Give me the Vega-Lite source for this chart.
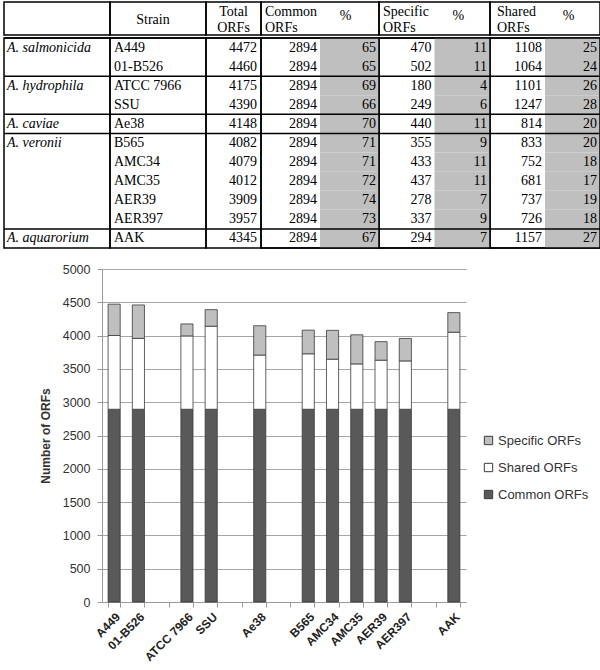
{
  "$schema": "https://vega.github.io/schema/vega-lite/v6.json",
  "padding": {"left": 2, "top": 1, "right": 0, "bottom": 0},
  "autosize": {"type": "pad"},
  "background": "white",
  "datasets": {
    "orfs": [
      {"species": "A. salmonicida", "strain": "A449", "total": 4472, "common": 2894, "commonPct": 65, "specific": 470, "specificPct": 11, "shared": 1108, "sharedPct": 25},
      {"species": "A. salmonicida", "strain": "01-B526", "total": 4460, "common": 2894, "commonPct": 65, "specific": 502, "specificPct": 11, "shared": 1064, "sharedPct": 24},
      {"species": "A. hydrophila", "strain": "ATCC 7966", "total": 4175, "common": 2894, "commonPct": 69, "specific": 180, "specificPct": 4, "shared": 1101, "sharedPct": 26},
      {"species": "A. hydrophila", "strain": "SSU", "total": 4390, "common": 2894, "commonPct": 66, "specific": 249, "specificPct": 6, "shared": 1247, "sharedPct": 28},
      {"species": "A. caviae", "strain": "Ae38", "total": 4148, "common": 2894, "commonPct": 70, "specific": 440, "specificPct": 11, "shared": 814, "sharedPct": 20},
      {"species": "A. veronii", "strain": "B565", "total": 4082, "common": 2894, "commonPct": 71, "specific": 355, "specificPct": 9, "shared": 833, "sharedPct": 20},
      {"species": "A. veronii", "strain": "AMC34", "total": 4079, "common": 2894, "commonPct": 71, "specific": 433, "specificPct": 11, "shared": 752, "sharedPct": 18},
      {"species": "A. veronii", "strain": "AMC35", "total": 4012, "common": 2894, "commonPct": 72, "specific": 437, "specificPct": 11, "shared": 681, "sharedPct": 17},
      {"species": "A. veronii", "strain": "AER39", "total": 3909, "common": 2894, "commonPct": 74, "specific": 278, "specificPct": 7, "shared": 737, "sharedPct": 19},
      {"species": "A. veronii", "strain": "AER397", "total": 3957, "common": 2894, "commonPct": 73, "specific": 337, "specificPct": 9, "shared": 726, "sharedPct": 18},
      {"species": "A. aquarorium", "strain": "AAK", "total": 4345, "common": 2894, "commonPct": 67, "specific": 294, "specificPct": 7, "shared": 1157, "sharedPct": 27}
    ]
  },
  "vconcat": [
    {
      "vconcat": [
        {
          "hconcat": [
            {
              "width": 106, "height": 33,
              "view": {"stroke": "#000", "strokeWidth": 1.5},
              "data": {"values": [{}]},
              "mark": {"type": "text"},
              "encoding": {"text": {"value": ""}}
            },
            {
              "width": 96, "height": 33,
              "view": {"stroke": "#000", "strokeWidth": 1.5},
              "data": {"values": [{"r": "h2", "t": "Strain"}]},
              "mark": {"type": "text", "font": "Liberation Serif", "fontSize": 14, "color": "#000", "align": "center", "baseline": "middle", "dx": -5, "dy": 1},
              "encoding": {
                "x": {"datum": "c", "type": "nominal", "bandPosition": 0.5, "scale": {"type": "band", "domain": ["c"], "paddingInner": 0, "paddingOuter": 0}, "axis": null},
                "y": {"field": "r", "type": "nominal", "bandPosition": 0, "scale": {"type": "band", "domain": ["h1", "h2"], "paddingInner": 0, "paddingOuter": 0}, "axis": null},
                "text": {"field": "t"}
              }
            },
            {
              "width": 55, "height": 33,
              "view": {"stroke": "#000", "strokeWidth": 1.5},
              "data": {"values": [{"r": "h1", "t": "Total"}, {"r": "h2", "t": "ORFs"}]},
              "mark": {"type": "text", "font": "Liberation Serif", "fontSize": 14, "color": "#000", "align": "center", "baseline": "middle", "dy": 1.5},
              "encoding": {
                "x": {"datum": "c", "type": "nominal", "bandPosition": 0.5, "scale": {"type": "band", "domain": ["c"], "paddingInner": 0, "paddingOuter": 0}, "axis": null},
                "y": {"field": "r", "type": "nominal", "scale": {"type": "band", "domain": ["h1", "h2"], "paddingInner": 0, "paddingOuter": 0}, "axis": null},
                "text": {"field": "t"}
              }
            },
            {
              "width": 118, "height": 33,
              "view": {"stroke": "#000", "strokeWidth": 1.5},
              "layer": [
                {
                  "data": {"values": [{"r": "h1", "t": "Common"}, {"r": "h2", "t": "ORFs"}]},
                  "mark": {"type": "text", "font": "Liberation Serif", "fontSize": 14, "color": "#000", "align": "left", "baseline": "middle", "dx": 4, "dy": 1.5},
                  "encoding": {
                    "x": {"datum": "v", "type": "nominal", "bandPosition": 0, "scale": {"type": "band", "domain": ["v", "p"], "paddingInner": 0, "paddingOuter": 0}, "axis": null},
                    "y": {"field": "r", "type": "nominal", "scale": {"type": "band", "domain": ["h1", "h2"], "paddingInner": 0, "paddingOuter": 0}, "axis": null},
                    "text": {"field": "t"}
                  }
                },
                {
                  "data": {"values": [{"r": "h2", "t": "%"}]},
                  "mark": {"type": "text", "font": "Liberation Serif", "fontSize": 14, "color": "#000", "align": "center", "baseline": "middle", "dx": -4, "dy": -3},
                  "encoding": {
                    "x": {"datum": "p", "type": "nominal", "bandPosition": 0.5, "scale": {"type": "band", "domain": ["v", "p"], "paddingInner": 0, "paddingOuter": 0}, "axis": null},
                    "y": {"field": "r", "type": "nominal", "bandPosition": 0, "scale": {"type": "band", "domain": ["h1", "h2"], "paddingInner": 0, "paddingOuter": 0}, "axis": null},
                    "text": {"field": "t"}
                  }
                }
              ]
            },
            {
              "width": 111, "height": 33,
              "view": {"stroke": "#000", "strokeWidth": 1.5},
              "layer": [
                {
                  "data": {"values": [{"r": "h1", "t": "Specific"}, {"r": "h2", "t": "ORFs"}]},
                  "mark": {"type": "text", "font": "Liberation Serif", "fontSize": 14, "color": "#000", "align": "left", "baseline": "middle", "dx": 4, "dy": 1.5},
                  "encoding": {
                    "x": {"datum": "v", "type": "nominal", "bandPosition": 0, "scale": {"type": "band", "domain": ["v", "p"], "paddingInner": 0, "paddingOuter": 0}, "axis": null},
                    "y": {"field": "r", "type": "nominal", "scale": {"type": "band", "domain": ["h1", "h2"], "paddingInner": 0, "paddingOuter": 0}, "axis": null},
                    "text": {"field": "t"}
                  }
                },
                {
                  "data": {"values": [{"r": "h2", "t": "%"}]},
                  "mark": {"type": "text", "font": "Liberation Serif", "fontSize": 14, "color": "#000", "align": "center", "baseline": "middle", "dx": -4, "dy": -3},
                  "encoding": {
                    "x": {"datum": "p", "type": "nominal", "bandPosition": 0.5, "scale": {"type": "band", "domain": ["v", "p"], "paddingInner": 0, "paddingOuter": 0}, "axis": null},
                    "y": {"field": "r", "type": "nominal", "bandPosition": 0, "scale": {"type": "band", "domain": ["h1", "h2"], "paddingInner": 0, "paddingOuter": 0}, "axis": null},
                    "text": {"field": "t"}
                  }
                }
              ]
            },
            {
              "width": 110, "height": 33,
              "view": {"stroke": "#000", "strokeWidth": 1.5},
              "layer": [
                {
                  "data": {"values": [{"r": "h1", "t": "Shared"}, {"r": "h2", "t": "ORFs"}]},
                  "mark": {"type": "text", "font": "Liberation Serif", "fontSize": 14, "color": "#000", "align": "left", "baseline": "middle", "dx": 7, "dy": 1.5},
                  "encoding": {
                    "x": {"datum": "v", "type": "nominal", "bandPosition": 0, "scale": {"type": "band", "domain": ["v", "p"], "paddingInner": 0, "paddingOuter": 0}, "axis": null},
                    "y": {"field": "r", "type": "nominal", "scale": {"type": "band", "domain": ["h1", "h2"], "paddingInner": 0, "paddingOuter": 0}, "axis": null},
                    "text": {"field": "t"}
                  }
                },
                {
                  "data": {"values": [{"r": "h2", "t": "%"}]},
                  "mark": {"type": "text", "font": "Liberation Serif", "fontSize": 14, "color": "#000", "align": "center", "baseline": "middle", "dx": -4, "dy": -3},
                  "encoding": {
                    "x": {"datum": "p", "type": "nominal", "bandPosition": 0.5, "scale": {"type": "band", "domain": ["v", "p"], "paddingInner": 0, "paddingOuter": 0}, "axis": null},
                    "y": {"field": "r", "type": "nominal", "bandPosition": 0, "scale": {"type": "band", "domain": ["h1", "h2"], "paddingInner": 0, "paddingOuter": 0}, "axis": null},
                    "text": {"field": "t"}
                  }
                }
              ]
            }
          ],
          "spacing": 0,
          "bounds": "flush",
          "resolve": {"scale": {"x": "independent", "y": "independent"}}
        },
        {
          "hconcat": [
            {
              "width": 106, "height": 210,
              "view": {"stroke": "#000", "strokeWidth": 1.5},
              "data": {"name": "orfs"},
              "transform": [{"window": [{"op": "row_number", "as": "rn"}], "groupby": ["species"]}, {"filter": "datum.rn == 1"}],
              "layer": [
                {
                  "mark": {"type": "rule", "color": "#000", "strokeWidth": 1.5},
                  "encoding": {"y": {"field": "strain", "type": "nominal", "bandPosition": 0, "scale": {"type": "band", "domain": ["A449","01-B526","ATCC 7966","SSU","Ae38","B565","AMC34","AMC35","AER39","AER397","AAK"], "paddingInner": 0, "paddingOuter": 0}, "axis": null}}
                },
                {
                  "mark": {"type": "text", "font": "Liberation Serif", "fontSize": 14, "fontStyle": "italic", "color": "#000", "align": "left", "baseline": "middle", "dx": 3},
                  "encoding": {
                    "x": {"datum": "c", "type": "nominal", "bandPosition": 0, "scale": {"type": "band", "domain": ["c"], "paddingInner": 0, "paddingOuter": 0}, "axis": null},
                    "y": {"field": "strain", "type": "nominal", "scale": {"type": "band", "domain": ["A449","01-B526","ATCC 7966","SSU","Ae38","B565","AMC34","AMC35","AER39","AER397","AAK"], "paddingInner": 0, "paddingOuter": 0}, "axis": null},
                    "text": {"field": "species"}
                  }
                }
              ]
            },
            {
              "width": 96, "height": 210,
              "view": {"stroke": "#000", "strokeWidth": 1.5},
              "data": {"name": "orfs"},
              "layer": [
                {
                  "transform": [{"window": [{"op": "row_number", "as": "rn"}], "groupby": ["species"]}, {"filter": "datum.rn == 1"}],
                  "mark": {"type": "rule", "color": "#000", "strokeWidth": 1.5},
                  "encoding": {"y": {"field": "strain", "type": "nominal", "bandPosition": 0, "scale": {"type": "band", "domain": ["A449","01-B526","ATCC 7966","SSU","Ae38","B565","AMC34","AMC35","AER39","AER397","AAK"], "paddingInner": 0, "paddingOuter": 0}, "axis": null}}
                },
                {
                  "mark": {"type": "text", "font": "Liberation Serif", "fontSize": 14, "color": "#000", "align": "left", "baseline": "middle", "dx": 4},
                  "encoding": {
                    "x": {"datum": "c", "type": "nominal", "bandPosition": 0, "scale": {"type": "band", "domain": ["c"], "paddingInner": 0, "paddingOuter": 0}, "axis": null},
                    "y": {"field": "strain", "type": "nominal", "scale": {"type": "band", "domain": ["A449","01-B526","ATCC 7966","SSU","Ae38","B565","AMC34","AMC35","AER39","AER397","AAK"], "paddingInner": 0, "paddingOuter": 0}, "axis": null},
                    "text": {"field": "strain"}
                  }
                }
              ]
            },
            {
              "width": 55, "height": 210,
              "view": {"stroke": "#000", "strokeWidth": 1.5},
              "data": {"name": "orfs"},
              "layer": [
                {
                  "transform": [{"window": [{"op": "row_number", "as": "rn"}], "groupby": ["species"]}, {"filter": "datum.rn == 1"}],
                  "mark": {"type": "rule", "color": "#000", "strokeWidth": 1.5},
                  "encoding": {"y": {"field": "strain", "type": "nominal", "bandPosition": 0, "scale": {"type": "band", "domain": ["A449","01-B526","ATCC 7966","SSU","Ae38","B565","AMC34","AMC35","AER39","AER397","AAK"], "paddingInner": 0, "paddingOuter": 0}, "axis": null}}
                },
                {
                  "mark": {"type": "text", "font": "Liberation Serif", "fontSize": 14, "color": "#000", "align": "right", "baseline": "middle", "dx": -4},
                  "encoding": {
                    "x": {"datum": "c", "type": "nominal", "bandPosition": 1, "scale": {"type": "band", "domain": ["c"], "paddingInner": 0, "paddingOuter": 0}, "axis": null},
                    "y": {"field": "strain", "type": "nominal", "scale": {"type": "band", "domain": ["A449","01-B526","ATCC 7966","SSU","Ae38","B565","AMC34","AMC35","AER39","AER397","AAK"], "paddingInner": 0, "paddingOuter": 0}, "axis": null},
                    "text": {"field": "total"}
                  }
                }
              ]
            },
            {
              "width": 118, "height": 210,
              "view": {"stroke": "#000", "strokeWidth": 1.5},
              "data": {"name": "orfs"},
              "layer": [
                {
                  "mark": {"type": "rect", "color": "#bfbfbf"},
                  "encoding": {
                    "x": {"datum": "p", "type": "nominal", "scale": {"type": "band", "domain": ["v", "p"], "paddingInner": 0, "paddingOuter": 0}, "axis": null},
                    "y": {"field": "strain", "type": "nominal", "scale": {"type": "band", "domain": ["A449","01-B526","ATCC 7966","SSU","Ae38","B565","AMC34","AMC35","AER39","AER397","AAK"], "paddingInner": 0, "paddingOuter": 0}, "axis": null}
                  }
                },
                {
                  "transform": [{"window": [{"op": "row_number", "as": "rn"}], "groupby": ["species"]}, {"filter": "datum.rn == 1"}],
                  "mark": {"type": "rule", "color": "#000", "strokeWidth": 1.5},
                  "encoding": {"y": {"field": "strain", "type": "nominal", "bandPosition": 0, "scale": {"type": "band", "domain": ["A449","01-B526","ATCC 7966","SSU","Ae38","B565","AMC34","AMC35","AER39","AER397","AAK"], "paddingInner": 0, "paddingOuter": 0}, "axis": null}}
                },
                {
                  "mark": {"type": "text", "font": "Liberation Serif", "fontSize": 14, "color": "#000", "align": "right", "baseline": "middle", "dx": -3},
                  "encoding": {
                    "x": {"datum": "v", "type": "nominal", "bandPosition": 1, "scale": {"type": "band", "domain": ["v", "p"], "paddingInner": 0, "paddingOuter": 0}, "axis": null},
                    "y": {"field": "strain", "type": "nominal", "scale": {"type": "band", "domain": ["A449","01-B526","ATCC 7966","SSU","Ae38","B565","AMC34","AMC35","AER39","AER397","AAK"], "paddingInner": 0, "paddingOuter": 0}, "axis": null},
                    "text": {"field": "common"}
                  }
                },
                {
                  "mark": {"type": "text", "font": "Liberation Serif", "fontSize": 14, "color": "#000", "align": "right", "baseline": "middle", "dx": -3},
                  "encoding": {
                    "x": {"datum": "p", "type": "nominal", "bandPosition": 1, "scale": {"type": "band", "domain": ["v", "p"], "paddingInner": 0, "paddingOuter": 0}, "axis": null},
                    "y": {"field": "strain", "type": "nominal", "scale": {"type": "band", "domain": ["A449","01-B526","ATCC 7966","SSU","Ae38","B565","AMC34","AMC35","AER39","AER397","AAK"], "paddingInner": 0, "paddingOuter": 0}, "axis": null},
                    "text": {"field": "commonPct"}
                  }
                },
                {
                  "data": {"values": [{}]},
                  "mark": {"type": "rule", "color": "#000", "strokeWidth": 1.5},
                  "encoding": {"y": {"datum": "AAK", "type": "nominal", "bandPosition": 1, "scale": {"type": "band", "domain": ["A449","01-B526","ATCC 7966","SSU","Ae38","B565","AMC34","AMC35","AER39","AER397","AAK"], "paddingInner": 0, "paddingOuter": 0}, "axis": null}}
                }
              ]
            },
            {
              "width": 111, "height": 210,
              "view": {"stroke": "#000", "strokeWidth": 1.5},
              "data": {"name": "orfs"},
              "layer": [
                {
                  "mark": {"type": "rect", "color": "#bfbfbf"},
                  "encoding": {
                    "x": {"datum": "p", "type": "nominal", "scale": {"type": "band", "domain": ["v", "p"], "paddingInner": 0, "paddingOuter": 0}, "axis": null},
                    "y": {"field": "strain", "type": "nominal", "scale": {"type": "band", "domain": ["A449","01-B526","ATCC 7966","SSU","Ae38","B565","AMC34","AMC35","AER39","AER397","AAK"], "paddingInner": 0, "paddingOuter": 0}, "axis": null}
                  }
                },
                {
                  "transform": [{"window": [{"op": "row_number", "as": "rn"}], "groupby": ["species"]}, {"filter": "datum.rn == 1"}],
                  "mark": {"type": "rule", "color": "#000", "strokeWidth": 1.5},
                  "encoding": {"y": {"field": "strain", "type": "nominal", "bandPosition": 0, "scale": {"type": "band", "domain": ["A449","01-B526","ATCC 7966","SSU","Ae38","B565","AMC34","AMC35","AER39","AER397","AAK"], "paddingInner": 0, "paddingOuter": 0}, "axis": null}}
                },
                {
                  "mark": {"type": "text", "font": "Liberation Serif", "fontSize": 14, "color": "#000", "align": "right", "baseline": "middle", "dx": -3},
                  "encoding": {
                    "x": {"datum": "v", "type": "nominal", "bandPosition": 1, "scale": {"type": "band", "domain": ["v", "p"], "paddingInner": 0, "paddingOuter": 0}, "axis": null},
                    "y": {"field": "strain", "type": "nominal", "scale": {"type": "band", "domain": ["A449","01-B526","ATCC 7966","SSU","Ae38","B565","AMC34","AMC35","AER39","AER397","AAK"], "paddingInner": 0, "paddingOuter": 0}, "axis": null},
                    "text": {"field": "specific"}
                  }
                },
                {
                  "mark": {"type": "text", "font": "Liberation Serif", "fontSize": 14, "color": "#000", "align": "right", "baseline": "middle", "dx": -3},
                  "encoding": {
                    "x": {"datum": "p", "type": "nominal", "bandPosition": 1, "scale": {"type": "band", "domain": ["v", "p"], "paddingInner": 0, "paddingOuter": 0}, "axis": null},
                    "y": {"field": "strain", "type": "nominal", "scale": {"type": "band", "domain": ["A449","01-B526","ATCC 7966","SSU","Ae38","B565","AMC34","AMC35","AER39","AER397","AAK"], "paddingInner": 0, "paddingOuter": 0}, "axis": null},
                    "text": {"field": "specificPct"}
                  }
                },
                {
                  "data": {"values": [{}]},
                  "mark": {"type": "rule", "color": "#000", "strokeWidth": 1.5},
                  "encoding": {"y": {"datum": "AAK", "type": "nominal", "bandPosition": 1, "scale": {"type": "band", "domain": ["A449","01-B526","ATCC 7966","SSU","Ae38","B565","AMC34","AMC35","AER39","AER397","AAK"], "paddingInner": 0, "paddingOuter": 0}, "axis": null}}
                }
              ]
            },
            {
              "width": 110, "height": 210,
              "view": {"stroke": "#000", "strokeWidth": 1.5},
              "data": {"name": "orfs"},
              "layer": [
                {
                  "mark": {"type": "rect", "color": "#bfbfbf"},
                  "encoding": {
                    "x": {"datum": "p", "type": "nominal", "scale": {"type": "band", "domain": ["v", "p"], "paddingInner": 0, "paddingOuter": 0}, "axis": null},
                    "y": {"field": "strain", "type": "nominal", "scale": {"type": "band", "domain": ["A449","01-B526","ATCC 7966","SSU","Ae38","B565","AMC34","AMC35","AER39","AER397","AAK"], "paddingInner": 0, "paddingOuter": 0}, "axis": null}
                  }
                },
                {
                  "transform": [{"window": [{"op": "row_number", "as": "rn"}], "groupby": ["species"]}, {"filter": "datum.rn == 1"}],
                  "mark": {"type": "rule", "color": "#000", "strokeWidth": 1.5},
                  "encoding": {"y": {"field": "strain", "type": "nominal", "bandPosition": 0, "scale": {"type": "band", "domain": ["A449","01-B526","ATCC 7966","SSU","Ae38","B565","AMC34","AMC35","AER39","AER397","AAK"], "paddingInner": 0, "paddingOuter": 0}, "axis": null}}
                },
                {
                  "mark": {"type": "text", "font": "Liberation Serif", "fontSize": 14, "color": "#000", "align": "right", "baseline": "middle", "dx": -3},
                  "encoding": {
                    "x": {"datum": "v", "type": "nominal", "bandPosition": 1, "scale": {"type": "band", "domain": ["v", "p"], "paddingInner": 0, "paddingOuter": 0}, "axis": null},
                    "y": {"field": "strain", "type": "nominal", "scale": {"type": "band", "domain": ["A449","01-B526","ATCC 7966","SSU","Ae38","B565","AMC34","AMC35","AER39","AER397","AAK"], "paddingInner": 0, "paddingOuter": 0}, "axis": null},
                    "text": {"field": "shared"}
                  }
                },
                {
                  "mark": {"type": "text", "font": "Liberation Serif", "fontSize": 14, "color": "#000", "align": "right", "baseline": "middle", "dx": -3},
                  "encoding": {
                    "x": {"datum": "p", "type": "nominal", "bandPosition": 1, "scale": {"type": "band", "domain": ["v", "p"], "paddingInner": 0, "paddingOuter": 0}, "axis": null},
                    "y": {"field": "strain", "type": "nominal", "scale": {"type": "band", "domain": ["A449","01-B526","ATCC 7966","SSU","Ae38","B565","AMC34","AMC35","AER39","AER397","AAK"], "paddingInner": 0, "paddingOuter": 0}, "axis": null},
                    "text": {"field": "sharedPct"}
                  }
                },
                {
                  "data": {"values": [{}]},
                  "mark": {"type": "rule", "color": "#000", "strokeWidth": 1.5},
                  "encoding": {"y": {"datum": "AAK", "type": "nominal", "bandPosition": 1, "scale": {"type": "band", "domain": ["A449","01-B526","ATCC 7966","SSU","Ae38","B565","AMC34","AMC35","AER39","AER397","AAK"], "paddingInner": 0, "paddingOuter": 0}, "axis": null}}
                },
                {
                  "data": {"values": [{}]},
                  "mark": {"type": "rule", "color": "#000", "strokeWidth": 1.5},
                  "encoding": {"x": {"datum": "p", "type": "nominal", "bandPosition": 1, "scale": {"type": "band", "domain": ["v", "p"], "paddingInner": 0, "paddingOuter": 0}, "axis": null}}
                }
              ]
            }
          ],
          "spacing": 0,
          "bounds": "flush",
          "resolve": {"scale": {"x": "independent", "y": "independent"}}
        }
      ],
      "spacing": 0,
      "resolve": {"scale": {"x": "independent", "y": "independent"}}
    },
    {
      "hconcat": [
        {
          "width": 27, "height": 10,
          "data": {"values": [{}]},
          "mark": {"type": "text"},
          "encoding": {"text": {"value": ""}}
        },
        {
          "width": 364, "height": 333,
          "data": {"name": "orfs"},
          "transform": [{"fold": ["common", "shared", "specific"], "as": ["key", "n"]}],
          "mark": {"type": "bar", "stroke": "#3a3a3a", "strokeWidth": 0.8},
          "encoding": {
            "x": {
              "field": "strain", "type": "nominal",
              "scale": {"domain": ["A449", "01-B526", " ", "ATCC 7966", "SSU", "  ", "Ae38", "   ", "B565", "AMC34", "AMC35", "AER39", "AER397", "    ", "AAK"], "paddingInner": 0.5, "paddingOuter": 0.25},
              "axis": {"title": null, "labelAngle": -45, "labelFont": "Liberation Sans", "labelFontWeight": "bold", "labelFontSize": 12, "labelColor": "#222", "tickBand": "extent", "tickSize": 5, "tickColor": "#999", "domainColor": "#999", "grid": false, "labelPadding": 4}
            },
            "y": {
              "field": "n", "type": "quantitative", "stack": "zero",
              "scale": {"domain": [0, 5000], "nice": false},
              "axis": {"title": "Number of ORFs", "format": "d", "values": [0, 500, 1000, 1500, 2000, 2500, 3000, 3500, 4000, 4500, 5000], "grid": true, "gridColor": "#a6a6a6", "domainColor": "#999", "tickColor": "#999", "tickSize": 5, "labelFont": "Liberation Sans", "labelFontSize": 12.5, "labelColor": "#333", "labelPadding": 7, "titleFont": "Liberation Sans", "titleFontWeight": "bold", "titleFontSize": 12, "titleColor": "#333", "titlePadding": 10}
            },
            "color": {
              "field": "key", "type": "nominal",
              "scale": {"domain": ["specific", "shared", "common"], "range": ["#bfbfbf", "#ffffff", "#595959"]},
              "legend": {"title": null, "orient": "none", "legendX": 380, "legendY": 165, "padding": 0, "symbolType": "square", "symbolSize": 70, "symbolStrokeColor": "#3a3a3a", "symbolStrokeWidth": 1, "labelFont": "Liberation Sans", "labelFontSize": 13, "labelColor": "#333", "rowPadding": 13, "labelOffset": 3, "labelExpr": "datum.label == 'specific' ? 'Specific ORFs' : datum.label == 'shared' ? 'Shared ORFs' : 'Common ORFs'"}
            },
            "order": {"field": "key", "sort": "ascending"}
          }
        }
      ],
      "spacing": 8,
      "resolve": {"scale": {"color": "independent", "x": "independent", "y": "independent"}, "legend": {"color": "independent"}}
    }
  ],
  "spacing": 13,
  "resolve": {"scale": {"x": "independent", "y": "independent", "color": "independent"}, "legend": {"color": "independent"}},
  "config": {"view": {"stroke": null}, "font": "Liberation Sans"}
}
